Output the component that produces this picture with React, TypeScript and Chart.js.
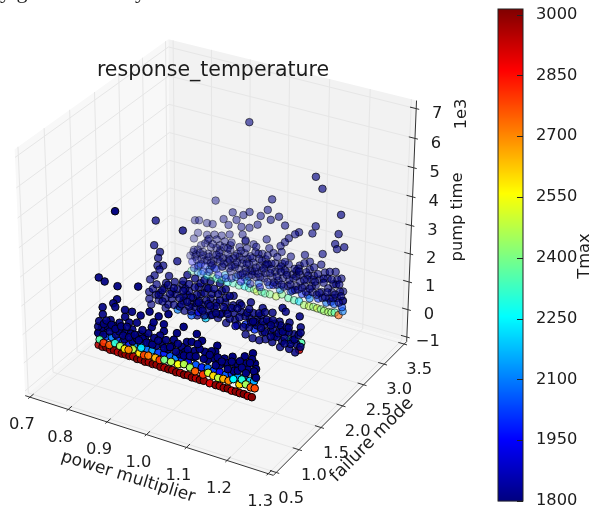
import React, { useEffect, useRef } from "react";
import { Chart, registerables } from "chart.js";

Chart.register(...registerables);

const powerRange = [0.7, 1.3];
const modeRange = [0.5, 3.5];
const pumpRange = [-1, 7.1];
const powerTicks = [0.7, 0.8, 0.9, 1.0, 1.1, 1.2, 1.3];
const modeTicks = [0.5, 1.0, 1.5, 2.0, 2.5, 3.0, 3.5];
const pumpTicks = [-1, 0, 1, 2, 3, 4, 5, 6, 7];
const tmaxTicks = [1800, 1950, 2100, 2250, 2400, 2550, 2700, 2850, 3000];
const tmaxRange = [1800, 3014];

// [power multiplier, pump time / 1e3, Tmax]
const mode3Upper = [
  [.955,5.98,1802],[1.125,4.72,1802],[1.142,4.37,1802],[1.19,3.65,1802],[1.015,3.53,1804],[.868,2.94,1806],[.913,2.69,1804],[.941,2.7,1800],[.957,2.87,1804],[1.004,3.12,1804],[1.033,2.99,1800],[.986,2.84,1804],[1.012,2.8,1804],[.889,2.36,1804],[.923,2.46,1804],[.978,2.5,1801],[.902,2.2,1806],[1.049,2.74,1804],[.936,2.26,1804],[.957,2.31,1804],[1.127,3.01,1804],[1.119,2.73,1804],[1.085,2.64,1804],[1.075,2.53,1804],[1.185,2.96,1802],[1.059,2.33,1804],[.939,2.0,1804],[1.002,2.07,1804],[1.177,2.58,1804],[1.2,2.56,1804],[1.182,2.42,1804],[.947,1.78,1804],[.968,1.76,1804],[1.049,2.15,1804],[1.038,1.97,1804],[1.009,1.78,1800],[.931,1.52,1804],[.907,1.49,1800],[1.041,1.77,1804],[1.101,1.9,1804],[1.146,2.11,1804],[.991,1.51,1804],[.981,1.47,1804],[1.02,1.65,1804],[1.114,1.71,1804],[1.088,1.47,1804],[1.143,1.72,1800],[1.114,1.43,1804],[1.18,1.61,1804],[1.195,1.43,1804],[1.153,1.48,1804],[1.14,1.18,1802],[1.182,1.17,1804],[1.2,.99,1800],[1.2,.66,1802],[1.007,1.18,1802],[1.043,1.36,1804],[1.07,1.08,1802],
  [.813,2.03,1804],[.824,2.07,1806],[.845,2.05,1804],[.86,2.07,1806],[.884,1.75,1804],[.905,1.87,1804],[.821,1.61,1804],[.845,1.63,1804],[.865,1.71,1804],[.81,1.36,1802],[.847,1.43,1804],[.871,1.56,1804],[.892,1.57,1804],[.947,1.82,1804],[.829,1.19,1804],[.855,1.22,1804],[.879,1.38,1804],[.808,.86,1800],[.834,.97,1804],[.86,.96,1804],[.879,.97,1800],[.907,1.32,1804],[.952,1.18,1800],[.973,1.5,1804],[.813,.71,1804],[.839,.67,1804],[.902,.99,1804],[.931,1.17,1804],[.983,1.3,1804],[.821,.39,1804],[.86,.61,1804],[.886,.65,1804],[.92,.85,1804],[.947,.81,1804],[.965,.78,1804],
  [.88,1.2,1802],[.9,1.15,1804],[.925,1.25,1802],[.945,1.35,1804],[.96,1.3,1802],[1.0,1.35,1804],[1.025,1.3,1802],[1.06,1.4,1804],[1.08,1.25,1802],[1.105,1.3,1804],[1.125,1.25,1802],[1.16,1.3,1804],[1.185,1.35,1802],
];
const mode3Mid = [
  [.82,1.0,1802],[.84,1.3,1804],[.85,1.5,1804],[.87,1.25,1802],[.89,1.35,1804],[.91,1.6,1804],[.92,1.15,1802],[.935,1.4,1804],[.95,1.55,1804],[.965,1.25,1802],[.975,1.7,1804],[.99,1.25,1802],[1.005,1.5,1804],[1.015,1.25,1802],[1.03,1.55,1804],[1.035,1.15,1802],[1.05,1.45,1804],[1.065,1.7,1804],[1.075,1.3,1802],[1.09,1.15,1802],[1.1,1.6,1804],[1.11,1.2,1802],[1.125,1.55,1804],[1.135,1.35,1802],[1.15,1.25,1802],[1.165,1.55,1804],[1.175,1.15,1802],[1.19,1.2,1802],[1.055,1.1,1801],[1.085,1.35,1802],[.985,1.05,1801],[.94,1.1,1801],[.9,1.35,1804],[.86,1.35,1804],[1.12,1.1,1801],[1.17,1.3,1802],[1.0,1.15,1801],[1.08,1.05,1801],[1.04,1.25,1802],
];
const mode3Mass = [
  [.815,.8,1802],[.83,.7,1802],[.848,.95,1801],[.862,.75,1802],[.878,1.1,1801],[.885,.62,1804],[.9,.85,1801],[.908,.55,1806],[.915,1.05,1801],[.93,.72,1802],[.938,.95,1801],[.96,.8,1802],[.968,1.1,1800],[.975,.6,1806],[.99,.9,1801],[.997,.65,1802],[1.004,1.2,1801],[1.018,.78,1802],[1.025,1.0,1801],[1.03,.55,1810],[1.045,.85,1801],[1.05,1.15,1800],[1.058,.62,1806],[1.072,.95,1801],[1.08,.7,1802],[1.087,1.25,1801],[1.102,.8,1802],[1.108,1.05,1801],[1.122,.65,1802],[1.13,.92,1801],[1.145,.75,1802],[1.15,1.1,1801],[1.165,.6,1808],[1.172,.85,1801],[1.185,.7,1802],[1.192,.95,1801],[1.2,.65,1802],
  [.81,.95,1801],[.826,.9,1801],[.845,.7,1802],[.857,.55,1804],[.873,.85,1801],[.888,.95,1801],[.904,.65,1802],[.919,.75,1801],[.934,.52,1810],[.949,.7,1802],[.957,1.0,1801],[.971,.8,1801],[.986,.65,1802],[1.0,.85,1801],[1.014,1.05,1800],[1.022,.6,1804],[1.034,.72,1802],[1.048,.55,1810],[1.062,.85,1801],[1.077,.55,1812],[1.09,.9,1801],[1.105,.6,1804],[1.12,.85,1801],[1.133,.6,1804],[1.148,.55,1808],[1.162,.95,1801],[1.175,.65,1802],[1.19,.55,1810],
  [.8,.7,1802],[.818,.62,1804],[.835,.85,1801],[.85,.85,1801],[.855,.65,1802],[.87,1.0,1801],[.88,.8,1801],[.89,.75,1802],[.905,.95,1801],[.91,.75,1801],[.925,.95,1801],[.94,.6,1804],[.95,1.0,1801],[.955,.55,1810],[.965,.65,1802],[.975,.95,1801],[.98,.75,1801],[.995,1.0,1801],[1.005,.55,1812],[1.012,.9,1801],[1.03,.85,1801],[1.04,1.05,1800],[1.042,.6,1804],[1.055,1.0,1801],[1.065,.7,1802],[1.085,.6,1804],[1.095,.7,1802],[1.1,1.0,1801],[1.115,.75,1801],[1.128,1.05,1801],[1.14,.7,1802],[1.155,.6,1804],[1.16,.8,1801],[1.18,.8,1801],[1.195,.8,1801],
];
const mode3Low = [
  [.805,.5,1950],[.822,.42,2050],[.84,.48,1980],[.852,.4,2100],[.87,.48,2020],[.893,.35,2150],[.922,.4,2120],[.945,.48,2000],[.952,.38,2180],[.982,.42,2080],[1.01,.45,2040],[1.02,.5,1900],[1.038,.4,2120],[1.066,.45,2060],[1.07,.5,1860],[1.095,.48,1990],[1.11,.5,1880],[1.115,.4,2100],[1.137,.48,2010],[1.158,.42,2080],[1.17,.5,1870],[1.178,.45,2050],[1.198,.42,2030],[.828,.5,1900],[.865,.5,1900],[.928,.5,1850],
  [.81,.28,1900],[.835,.25,2000],[.85,.3,1850],[.875,.28,1950],[.895,.25,1900],[.91,.3,1850],[.935,.28,1950],[.96,.3,1850],[.985,.28,1900],
];
const mode3Chain = [
  [.803,.15,2350],[.82,.18,2150],[.829,.15,2100],[.845,.14,2250],[.86,.15,2400],[.87,.13,2300],[.884,.14,2300],[.9,.12,2250],[.915,.14,2320],[.93,.12,2350],[.945,.15,2250],[.957,.13,2320],[.97,.14,2400],[.978,.1,2500],[.99,.13,2350],[.999,.11,2350],[1.012,.13,2400],[1.028,.12,2480],[1.043,.25,2400],[1.06,.19,2350],[1.075,.17,2350],[1.088,.18,2220],[1.101,.1,2450],[1.114,.11,2480],[1.125,.13,2420],[1.135,.12,2500],[1.145,.12,2400],[1.153,.1,2450],[1.164,.1,2450],[1.172,.12,2420],[1.18,.15,2350],[1.19,.1,2750],[1.2,.28,2100],
];
const mode2Upper = [
  [.83,3.4,1804],[.9,3.32,1802],[.825,2.52,1804],[.84,2.34,1804],[.835,2.11,1804],[.885,2.19,1804],[.848,1.89,1804],[.833,1.83,1804],[.838,1.71,1804],[.825,1.45,1804],[.813,1.26,1804],[.863,1.58,1800],[.81,.8,1804],[.828,.77,1804],[.835,.6,1804],[.815,.37,1804],[.853,.74,1802],[.87,1.06,1802],[.898,1.41,1802],[.878,1.43,1804],[.911,1.81,1804],[.931,1.76,1802],[.853,.4,1802],[.885,.47,2100],[.903,.5,1802],[.921,.82,1801],[.941,1.01,1801],[.958,.46,2200],[.946,1.27,1802],[.971,1.83,1804],[.971,1.21,1801],[.936,.47,1802],[.971,.62,1802],[.921,.41,2050],[.986,1.13,1802],[1.009,1.23,1802],[1.029,1.21,1802],[1.011,.96,1801],[1.046,1.35,1803],[1.074,1.5,1803],[1.104,1.42,1804],[1.061,.66,2000],[1.034,.71,1802],[1.011,.51,1801],[1.071,.94,1802],[1.091,.96,1802],[1.109,.86,1801],[1.084,.58,2000],[1.104,.56,1802],[1.124,.68,1802],[1.061,.31,1801],[1.129,1.36,1804],[1.154,1.63,1804],[1.162,1.53,1804],[1.197,1.51,1802],[1.147,1.12,1802],[1.172,1.19,1802],[1.2,1.14,1802],[1.149,.85,1801],[1.172,.57,2250],[1.202,.6,2350],[1.197,.33,2900],[1.187,.2,1801],[1.172,.26,1801],[1.149,.23,1801],[1.129,.32,1801],[1.112,.35,1801],[1.134,.55,1801],[1.162,.81,1801],[1.184,.83,1802],[1.154,.46,1801],[1.079,.25,1801],[1.096,.25,1801],
];
const mode2Mass = [
  [.84,.9,1802],[.85,1.1,1801],[.86,.55,1803],[.87,.8,1801],[.88,1.0,1802],[.89,.6,1803],[.9,.85,1801],[.91,1.1,1802],[.92,.55,1801],[.93,.75,1801],[.94,.6,1950],[.95,.9,1801],[.96,1.1,1802],[.965,.75,1801],[.98,.9,1801],[.99,.6,1803],[1.0,.8,1802],[1.01,1.4,1803],[1.02,.7,1801],[1.03,.95,1801],[1.04,.55,1802],[1.05,1.05,1801],[1.06,.95,1801],[1.07,.6,1803],[1.08,1.15,1802],[1.09,.75,1801],[1.1,1.15,1802],[1.11,.6,1802],[1.12,1.0,1801],[1.13,.8,1801],[1.14,.55,1802],[1.15,1.0,1801],[1.16,.6,1801],[1.17,.85,1801],[1.18,.6,1801],[1.19,.5,1802],[.995,1.25,1801],[.975,1.4,1802],[.955,1.35,1801],[.935,1.2,1801],[.915,1.25,1802],[.9,1.0,1801],[1.0,1.6,1803],[1.03,1.55,1804],
  [.81,.55,1803],[.82,.95,1802],[.83,1.15,1802],[.835,.8,1802],[.845,.6,1802],[.855,1.3,1802],[.865,.95,1801],[.875,.6,1801],[.885,1.2,1802],[.895,.7,1801],[.905,1.3,1802],[.915,.7,1801],[.925,1.05,1801],[.935,.9,1801],[.945,.75,1801],[.955,.55,1801],[.965,1.0,1801],[.975,.65,1801],[.985,1.0,1801],[.995,.75,1801],[1.005,1.05,1801],[1.015,.85,1801],[1.025,1.1,1802],[1.035,.5,1850],[1.045,.85,1801],[1.055,.55,1801],[1.065,1.1,1802],[1.075,.8,1801],[1.085,.85,1801],[1.095,1.2,1802],[1.105,.95,1801],[1.115,1.05,1801],[1.125,.5,1801],[1.135,1.0,1801],[1.145,.7,1801],[1.155,.8,1801],[1.165,1.0,1801],[1.175,.45,1801],[1.185,.65,1801],[1.195,.85,1801],[1.2,.45,1802],[1.2,.95,1802],[.99,1.45,1802],[.96,1.55,1803],[.94,1.5,1803],[.92,1.05,1801],[1.02,1.5,1802],[1.05,1.3,1802],[1.07,1.25,1802],[1.11,1.3,1802],[1.13,1.1,1801],[1.17,1.0,1801],[1.16,.4,1801],[1.125,.9,1801],
  [.9,1.55,1802],[.915,1.5,1802],[.93,1.45,1802],[.945,1.65,1803],[.955,1.8,1803],[.965,1.55,1802],[.98,1.6,1802],[.995,1.85,1803],[1.01,1.7,1803],[.875,1.2,1801],[.86,1.25,1801],[.845,1.0,1801],[.89,.9,1801],[.9,1.2,1801],[.91,.85,1801],[.94,.95,1801],[.95,.7,1801],[.97,.95,1801],[.985,.75,1801],[1.04,1.15,1801],[1.08,.85,1801],[1.1,.7,1801],
];
const mode1Upper = [
  [.851,5.11,1800],[.805,2.68,1804],[.82,2.6,1804],[.853,2.57,1803],[.906,2.77,1801],[.851,2.11,1803],[.841,1.93,1803],[.813,1.68,1804],[.813,1.43,1804],[.846,1.82,1803],[.871,1.82,1804],[.889,1.83,1803],[.911,1.79,1803],[.871,1.58,1803],[.833,1.31,1801],[.881,1.42,1803],[.901,1.5,1803],[.856,1.31,1801],[.838,1.06,1801],[.82,.98,1801],[.805,.78,1803],[.8,.72,1804],[.813,.71,1801],[.863,1.1,1802],[.889,1.21,1804],[.909,1.12,1803],[.922,1.08,1803],[.934,.92,1803],[.846,.85,1801],[.868,.78,1801],[.889,.8,1801],[.939,1.5,1804],[.944,1.69,1804],[.97,1.73,1804],[.97,1.49,1801],[1.003,1.56,1801],[1.02,1.85,1801],[1.028,1.36,1801],[1.053,1.74,1802],[.965,1.02,1801],[.99,1.06,1801],[1.015,1.13,1801],[1.04,1.41,1801],[1.066,1.56,1801],[.934,2.02,1803],[.982,2.13,1803],[.957,1.95,1804],[1.023,.99,1801],[1.048,1.14,1801],[1.073,1.21,1801],[1.096,1.07,1801],[1.122,1.18,1801],[1.142,1.33,1801],[1.172,1.47,1801],[1.192,1.66,1801],[1.197,1.33,1801],[1.175,1.23,1801],[1.149,1.02,1801],[1.124,1.01,1801],[1.104,1.55,1801],[1.099,1.32,1801],[1.154,1.14,1801],[1.197,.92,1801],
  [.81,.95,1801],[.825,1.05,1802],[.84,1.15,1801],[.855,1.0,1801],[.87,1.0,1801],[.885,1.05,1802],[.9,.95,1801],[.915,1.0,1801],[.93,1.25,1802],[.95,.9,1801],[.96,1.3,1801],[.98,.9,1801],[.995,1.3,1802],[1.01,.85,1801],[1.03,1.1,1801],[1.045,.9,1801],[1.06,1.25,1802],[1.08,.95,1801],[1.09,1.3,1801],[1.11,.9,1801],[1.13,1.05,1801],[1.145,.85,1801],[1.16,1.25,1801],[1.18,1.05,1801],[1.19,1.45,1801],[1.2,1.15,1802],
  [.8,.95,1801],[.803,1.15,1801],[.815,1.1,1801],[.822,1.25,1801],[.83,.9,1801],[.835,1.15,1801],[.845,1.05,1801],[.86,1.2,1801],[.865,.9,1801],[.875,1.25,1802],[.88,.9,1801],[.895,1.05,1801],[.905,.9,1801],[.915,1.3,1802],[.925,.9,1801],[.94,.9,1801],[.945,1.15,1801],[.955,1.1,1801],[.97,.9,1801],[.975,1.2,1801],[.985,1.0,1801],[1.0,.9,1801],[1.005,1.2,1801],[1.02,.85,1801],[1.035,.9,1801],[1.05,.95,1801],[1.055,1.4,1801],[1.07,.95,1801],[1.085,1.15,1801],[1.1,.85,1801],[1.105,1.15,1801],[1.115,1.05,1801],[1.13,.85,1801],[1.14,1.15,1801],[1.155,.9,1801],[1.165,1.05,1801],[1.175,.9,1801],[1.185,1.3,1801],[1.195,1.05,1801],[1.2,.85,1801],
];
const mode1Blue = [
  [.8,.72,2050],[.82,.67,2020],[.835,.72,2100],[.85,.66,2000],[.865,.7,2060],[.88,.7,1980],[.895,.72,2120],[.91,.8,2000],[.925,.68,2080],[.94,.7,2150],[.955,.68,2020],[.97,.72,1980],[.985,.68,2050],[1.0,.7,2100],[1.015,.72,2000],[1.03,.66,1950],[1.05,.65,2050],[1.065,.63,1990],[1.08,.67,2080],[1.095,.64,2020],[1.11,.66,1960],[1.125,.63,2060],[1.14,.72,2000],[1.155,.68,2120],[1.17,.72,2050],[1.185,.68,2200],[1.195,.7,2150],
];
const mode1Red = [
  [.8,.3,2950],[.81,.27,2980],[.82,.29,3000],[.83,.25,2960],[.84,.27,3000],[.85,.25,2940],[.86,.24,3010],[.87,.25,2980],[.88,.24,3000],[.89,.26,2950],[.9,.22,3010],[.91,.24,2970],[.92,.21,3000],[.93,.23,2960],[.94,.21,3010],[.95,.23,2980],[.96,.2,3000],[.97,.21,2950],[.98,.2,3010],[.99,.21,2970],[1.0,.18,3000],[1.01,.2,2960],[1.02,.18,3010],[1.03,.2,2980],[1.04,.17,3000],[1.05,.18,2940],[1.06,.17,3000],[1.07,.18,2980],[1.085,.16,2900],[1.1,.16,3000],[1.11,.17,2960],[1.12,.15,2980],[1.13,.17,3010],[1.14,.14,2920],[1.15,.15,3000],[1.16,.14,2970],[1.17,.15,3010],[1.18,.13,2950],[1.19,.13,3000],
];
const mode1Bright = [
  [.803,.5,2350],[.813,.42,2800],[.828,.41,2750],[.843,.54,2300],[.856,.49,2450],[.868,.44,2580],[.889,.52,2480],[.878,.45,2700],[.906,.45,2600],[.918,.43,2780],[.929,.46,2720],[.911,.66,2230],[.947,.46,2650],[.958,.43,2800],[.97,.49,2400],[.987,.49,2470],[1.005,.48,2550],[1.02,.55,2470],[1.035,.5,2450],[1.048,.42,2750],[1.068,.39,2800],[1.081,.51,2500],[1.094,.46,2600],[1.106,.44,2480],[1.119,.46,2650],[1.132,.45,2700],[1.144,.56,2250],[1.159,.44,2600],[1.165,.64,2300],[1.175,.51,2450],[1.187,.46,2750],[1.197,.47,2780],
];

const mode3Points = [...mode3Upper, ...mode3Mid, ...mode3Chain, ...mode3Low, ...mode3Mass];
const mode2Points = [...mode2Upper, ...mode2Mass];
const mode1Points = [...mode1Blue, ...mode1Upper, ...mode1Red, ...mode1Bright];

const FONT = '"DejaVu Sans"';
const TEXT = "#1c1c1c";
const EDGE = 1 / 48;
const SX = 2750, SY = 2700, OX = 219, OY = 249.5;

const K = 10;
const U = [0.866025, 0.5, 0];
const V = [-0.25, 0.433013, 0.866025];
const N = [0.433013, -0.75, 0.5];

function viewOf(a: number, b: number, c: number) {
  const d = [a - 0.5, b - 0.5, c - 0.5];
  const dot = (w: number[]) => w[0] * d[0] + w[1] * d[1] + w[2] * d[2];
  const w = K - dot(N);
  return { x: OX + SX * (dot(U) / w), y: OY - SY * (dot(V) / w) };
}
const ux = (p: number) => (p - powerRange[0]) / (powerRange[1] - powerRange[0]);
const uy = (m: number) => (m - modeRange[0]) / (modeRange[1] - modeRange[0]);
const uz = (z: number) => (z - pumpRange[0]) / (pumpRange[1] - pumpRange[0]);
const shade = (a: number, b: number, c: number) => 0.6 * (a - 0.5) - 1.5 * (b - 0.5) + 0.35 * (c - 0.5);

function jet(t: number): [number, number, number] {
  const f = (a: number) => Math.round(255 * Math.max(0, Math.min(1, 1.5 - Math.abs(4 * t - a))));
  return [f(3), f(2), f(1)];
}
const norm = (t: number) => (t - tmaxRange[0]) / (tmaxRange[1] - tmaxRange[0]);

const allRows = [
  { mode: 3, pts: mode3Points },
  { mode: 2, pts: mode2Points },
  { mode: 1, pts: mode1Points },
];
const depths = allRows.flatMap((r) => r.pts.map((q) => shade(ux(q[0]), uy(r.mode), uz(q[1]))));
const dMin = Math.min(...depths), dMax = Math.max(...depths);

function buildDataset(mode: number, pts: number[][]) {
  const projected = pts.map((q) => viewOf(ux(q[0]), uy(mode), uz(q[1])));
  const alphas = pts.map((q) => {
    const n = (dMax - shade(ux(q[0]), uy(mode), uz(q[1]))) / (dMax - dMin);
    return 1 - 0.7 * Math.pow(n, 1.6);
  });
  return {
    label: "failure mode " + mode,
    data: projected.map((v) => ({ x: v.x, y: v.y })),
    pointRadius: 3.8,
    pointBorderWidth: 1,
    pointBackgroundColor: pts.map((q, i) => {
      const c = jet(norm(q[2]));
      return `rgba(${c[0]},${c[1]},${c[2]},${alphas[i].toFixed(3)})`;
    }),
    pointBorderColor: alphas.map((a) => `rgba(0,0,0,${a.toFixed(3)})`),
    showLine: false,
    clip: false as any,
  };
}

const scene = {
  id: "scene",
  beforeDatasetsDraw(chart: any) {
    const ctx = chart.ctx;
    const a = -EDGE, b = 1 + EDGE;
    const P = (x: number, y: number, z: number) => viewOf(x, y, z);
    const poly = (pts: any[], fill: string) => {
      ctx.beginPath();
      pts.forEach((p, i) => (i ? ctx.lineTo(p.x, p.y) : ctx.moveTo(p.x, p.y)));
      ctx.closePath();
      ctx.fillStyle = fill;
      ctx.fill();
    };
    poly([P(a, a, a), P(a, b, a), P(a, b, b), P(a, a, b)], "#f8f8f8");
    poly([P(a, b, a), P(b, b, a), P(b, b, b), P(a, b, b)], "#f2f2f2");
    poly([P(a, a, a), P(b, a, a), P(b, b, a), P(a, b, a)], "#f5f5f5");

    const seg = (p: any, q: any, color: string, w = 1) => {
      ctx.beginPath();
      ctx.moveTo(p.x, p.y);
      ctx.lineTo(q.x, q.y);
      ctx.strokeStyle = color;
      ctx.lineWidth = w;
      ctx.stroke();
    };
    const grid = "#e6e6e6";
    powerTicks.forEach((t) => {
      const x = ux(t);
      seg(P(x, a, a), P(x, b, a), grid);
      seg(P(x, b, a), P(x, b, b), grid);
    });
    modeTicks.forEach((t) => {
      const y = uy(t);
      seg(P(b, y, a), P(a, y, a), grid);
      seg(P(a, y, a), P(a, y, b), grid);
    });
    pumpTicks.forEach((t) => {
      const z = uz(t);
      seg(P(a, a, z), P(a, b, z), grid);
      seg(P(a, b, z), P(b, b, z), grid);
    });

    const axis = "#333333";
    seg(P(a, a, a), P(b, a, a), axis);
    seg(P(b, a, a), P(b, b, a), axis);
    seg(P(b, b, a), P(b, b, b), axis);
    powerTicks.forEach((t) => seg(P(ux(t), a - 0.012, a), P(ux(t), a + 0.025, a), axis));
    modeTicks.forEach((t) => seg(P(b - 0.025, uy(t), a), P(b + 0.012, uy(t), a), axis));
    pumpTicks.forEach((t) => seg(P(b - 0.025, b, uz(t)), P(b + 0.012, b, uz(t)), axis));
  },
  afterDatasetsDraw(chart: any) {
    const ctx = chart.ctx;
    const a = -EDGE, b = 1 + EDGE;
    ctx.save();
    ctx.textAlign = "center";
    ctx.textBaseline = "middle";
    ctx.fillStyle = TEXT;
    const label = (s: string, x: number, y: number, size = 16.3, rot = 0) => {
      ctx.save();
      ctx.translate(x, y);
      ctx.rotate(rot);
      ctx.font = `${size}px ${FONT}`;
      ctx.fillText(s, 0, 0);
      ctx.restore();
    };
    powerTicks.forEach((t) => {
      const p = viewOf(ux(t), a, a);
      label(t.toFixed(1), p.x - 8, p.y + 28);
    });
    modeTicks.forEach((t) => {
      const p = viewOf(b, uy(t), a);
      label(t.toFixed(1), p.x + 15, p.y + 26);
    });
    pumpTicks.forEach((t) => {
      const p = viewOf(b, b, uz(t));
      label(t < 0 ? "\u2212" + Math.abs(t) : String(t), p.x + 21, p.y + 5);
    });
    label("response_temperature", 213, 71, 20.5);
    label("power multiplier", 128, 477, 17, 0.3);
    label("failure mode", 372, 440, 17.5, -0.79);
    label("pump time", 458, 217, 16.3, -Math.PI / 2);
    label("1e3", 462, 114, 16.3, -Math.PI / 2);
    label("Tmax", 585, 256, 16.3, -Math.PI / 2);

    // colour bar, on the Tmax scale
    const cb = chart.scales.cb;
    const left = 498, right = chart.chartArea.right;
    const top = cb.getPixelForValue(tmaxRange[1]);
    const bottom = cb.getPixelForValue(tmaxRange[0]);
    for (let y = top; y < bottom; y += 1) {
      const c = jet(norm(cb.getValueForPixel(y + 0.5)));
      ctx.fillStyle = `rgb(${c[0]},${c[1]},${c[2]})`;
      ctx.fillRect(left, y, right - left, 1.2);
    }
    ctx.strokeStyle = "#222";
    ctx.lineWidth = 1;
    ctx.strokeRect(left, top, right - left, bottom - top);
    tmaxTicks.forEach((t) => {
      const y = Math.round(cb.getPixelForValue(t)) + 0.5;
      ctx.beginPath();
      ctx.moveTo(right - 6, y);
      ctx.lineTo(right, y);
      ctx.stroke();
    });

    // descenders of the page text cut off by the top edge
    ctx.textAlign = "left";
    ctx.textBaseline = "alphabetic";
    ctx.fillStyle = "#222";
    ctx.font = '22px "Liberation Serif"';
    ctx.fillText("y g", 0, -2);
    ctx.fillText("y", 135, -2);
    ctx.restore();
  },
};

export default function App() {
  const ref = useRef<HTMLCanvasElement>(null);
  useEffect(() => {
    const chart = new Chart(ref.current as any, {
      type: "scatter",
      data: { datasets: allRows.map((r) => buildDataset(r.mode, r.pts)) as any },
      plugins: [scene as any],
      options: {
        animation: false,
        responsive: false,
        events: [],
        layout: { padding: { left: 0, right: 0, top: 9, bottom: 9 } },
        plugins: { legend: { display: false }, tooltip: { enabled: false }, title: { display: false } },
        scales: {
          x: { type: "linear", display: false, min: 0, max: 523 },
          y: { type: "linear", display: false, min: 9, max: 501, reverse: true },
          cb: {
            type: "linear",
            position: "right",
            min: tmaxRange[0],
            max: tmaxRange[1],
            grid: { display: false },
            border: { display: false },
            afterFit: (s: any) => { s.width = 77; s.paddingTop = 0; s.paddingBottom = 0; },
            afterBuildTicks: (s: any) => { s.ticks = tmaxTicks.map((value) => ({ value })); },
            ticks: { font: { family: "DejaVu Sans", size: 16.3 }, color: TEXT, padding: 5, autoSkip: false, maxRotation: 0, callback: (v: any) => String(v) },
          },
        } as any,
      },
    });
    return () => chart.destroy();
  }, []);
  return (
    <div style={{ position: "fixed", left: 0, top: 0, width: 600, height: 510, background: "#fff" }}>
      <canvas ref={ref} width={600} height={510} style={{ display: "block" }} />
    </div>
  );
}
